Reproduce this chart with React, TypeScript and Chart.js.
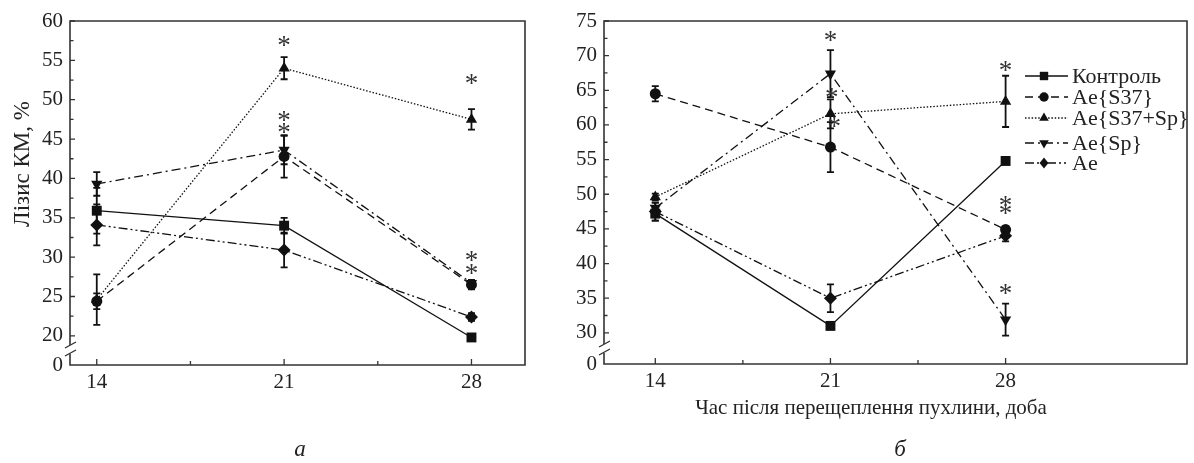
import React, { useEffect, useRef } from 'react';
import { Chart, registerables } from 'chart.js';
Chart.register(...registerables);

// ---------- data ----------
const days = [14, 21, 28];
const seriesNames = ['Контроль', 'Ae{S37}', 'Ae{S37+Sp}', 'Ae{Sp}', 'Ae'];

// panel а
const leftControl = [35.9, 34.0, 19.8];
const leftS37 = [24.4, 42.8, 26.5];
const leftS37Sp = [24.6, 54.0, 47.5];
const leftSp = [39.3, 43.6, 26.7];
const leftAe = [34.1, 30.9, 22.4];
const leftControlErr = [2.9, 1.0, 0.3];
const leftS37Err = [1.0, 2.7, 0.6];
const leftS37SpErr = [3.2, 1.4, 1.3];
const leftSpErr = [1.5, 1.8, 0];
const leftAeErr = [2.6, 2.2, 0.5];
const leftStarX = [21, 21, 21, 28, 28, 28];
const leftStarY = [57.6, 48.1, 46.5, 52.8, 30.3, 28.6];
const leftYTicks = [20, 25, 30, 35, 40, 45, 50, 55, 60];

// panel б
const rightControl = [47.2, 31.0, 54.8];
const rightS37 = [64.5, 56.8, 44.9];
const rightS37Sp = [49.6, 61.6, 63.4];
const rightSp = [48.0, 67.4, 31.9];
const rightAe = [47.5, 35.0, 44.0];
const rightControlErr = [1.0, 0.5, 0.3];
const rightS37Err = [1.1, 3.6, 0.5];
const rightS37SpErr = [0.5, 2.1, 3.7];
const rightSpErr = [0.8, 3.4, 2.3];
const rightAeErr = [1.3, 2.0, 0.8];
const rightStarX = [21, 21.05, 21.15, 28, 28, 28, 28];
const rightStarY = [73.0, 64.7, 60.5, 68.6, 49.2, 48.0, 36.5];
const rightYTicks = [30, 35, 40, 45, 50, 55, 60, 65, 70, 75];

const xMajor = [14, 21, 28];
const xMinor = [17.5, 24.5];

// ---------- styles ----------
const FONT = "'Liberation Serif', 'Times New Roman', serif";
const INK = '#111';
const styles = [
  { dash: [], point: 'rect', radius: 7, rotation: 0 },
  { dash: [8, 5], point: 'circle', radius: 5.5, rotation: 0 },
  { dash: [1.5, 1.8], point: 'triangle', radius: 6.5, rotation: 0 },
  { dash: [9, 4, 2, 4], point: 'triangle', radius: 6.5, rotation: 180 },
  { dash: [9, 3, 2, 3, 2, 3], point: 'rectRot', radius: 6.5, rotation: 0 },
];

type Panel = {
  values: number[][];
  errors: number[][];
  starX: number[];
  starY: number[];
  yTicks: number[];
  yMin: number;
  yMax: number;
  xMin: number;
  xMax: number;
  yAxisWidth: number;
  xAxisHeight: number;
  padTop: number;
  padRight: number;
  width: number;
  legend: boolean;
  drawTexts: (ctx: CanvasRenderingContext2D) => void;
};

function drawMarker(ctx: CanvasRenderingContext2D, kind: string, rot: number, x: number, y: number, r: number) {
  ctx.beginPath();
  if (kind === 'rect') {
    const s = r * Math.SQRT1_2;
    ctx.rect(x - s, y - s, 2 * s, 2 * s);
  } else if (kind === 'circle') {
    ctx.arc(x, y, r, 0, Math.PI * 2);
  } else if (kind === 'triangle') {
    const d = rot === 180 ? -1 : 1;
    ctx.moveTo(x, y - d * r);
    ctx.lineTo(x + r * 0.866, y + d * r * 0.5);
    ctx.lineTo(x - r * 0.866, y + d * r * 0.5);
    ctx.closePath();
  } else {
    ctx.moveTo(x, y - r);
    ctx.lineTo(x + r * 0.8, y);
    ctx.lineTo(x, y + r);
    ctx.lineTo(x - r * 0.8, y);
    ctx.closePath();
  }
  ctx.fill();
}

function makeDecor(p: Panel) {
  return {
    id: 'decor',
    afterDatasetsDraw(chart: any) {
      const ctx: CanvasRenderingContext2D = chart.ctx;
      const { left, right, top, bottom } = chart.chartArea;
      const xs = chart.scales.x;
      const ys = chart.scales.y;
      ctx.save();
      // error bars
      ctx.strokeStyle = INK;
      ctx.lineWidth = 1.8;
      ctx.setLineDash([]);
      p.errors.forEach((errs, i) => {
        errs.forEach((e, j) => {
          if (!e) return;
          const v = p.values[i][j];
          const x = xs.getPixelForValue(days[j]);
          const y1 = ys.getPixelForValue(v + e);
          const y2 = ys.getPixelForValue(v - e);
          ctx.beginPath();
          ctx.moveTo(x, y1); ctx.lineTo(x, y2);
          ctx.moveTo(x - 3.5, y1); ctx.lineTo(x + 3.5, y1);
          ctx.moveTo(x - 3.5, y2); ctx.lineTo(x + 3.5, y2);
          ctx.stroke();
        });
      });
      // frame
      ctx.strokeStyle = '#333';
      ctx.lineWidth = 1.6;
      ctx.beginPath();
      ctx.moveTo(left, bottom - 20);
      ctx.lineTo(left, top);
      ctx.lineTo(right, top);
      ctx.lineTo(right, bottom);
      ctx.lineTo(left, bottom);
      ctx.lineTo(left, bottom - 11);
      ctx.stroke();
      // axis break
      ctx.lineWidth = 1.4;
      ctx.beginPath();
      ctx.moveTo(left - 5, bottom - 17); ctx.lineTo(left + 6, bottom - 23);
      ctx.moveTo(left - 5, bottom - 9); ctx.lineTo(left + 6, bottom - 15);
      ctx.stroke();
      // inward ticks
      ctx.lineWidth = 1.3;
      ctx.beginPath();
      xMajor.forEach((v) => { const x = xs.getPixelForValue(v); ctx.moveTo(x, bottom); ctx.lineTo(x, bottom - 6); });
      xMinor.forEach((v) => { const x = xs.getPixelForValue(v); ctx.moveTo(x, bottom); ctx.lineTo(x, bottom - 4); });
      p.yTicks.forEach((v, k) => {
        const y = ys.getPixelForValue(v);
        ctx.moveTo(left, y); ctx.lineTo(left + 5, y);
        if (k < p.yTicks.length - 1) {
          const ym = ys.getPixelForValue(v + 2.5);
          ctx.moveTo(left, ym); ctx.lineTo(left + 3.5, ym);
        }
      });
      ctx.stroke();
      // significance stars
      ctx.fillStyle = '#333';
      ctx.font = `27px ${FONT}`;
      ctx.textAlign = 'center';
      ctx.textBaseline = 'alphabetic';
      p.starX.forEach((sx, k) => {
        ctx.fillText('*', xs.getPixelForValue(sx), ys.getPixelForValue(p.starY[k]) + 14);
      });
      // legend
      if (p.legend) {
        const rows = [76, 97, 118, 143, 163];
        styles.forEach((st, i) => {
          const y = rows[i];
          ctx.strokeStyle = INK;
          ctx.lineWidth = 1.3;
          ctx.setLineDash(st.dash);
          ctx.beginPath();
          ctx.moveTo(465, y); ctx.lineTo(508, y);
          ctx.stroke();
          ctx.setLineDash([]);
          ctx.fillStyle = INK;
          drawMarker(ctx, st.point, st.rotation, 484, y, st.radius * 0.85);
          ctx.fillStyle = '#222';
          ctx.font = `22px ${FONT}`;
          ctx.textAlign = 'left';
          ctx.textBaseline = 'middle';
          ctx.fillText(seriesNames[i], 512, y + 1);
        });
      }
      p.drawTexts(ctx);
      ctx.restore();
    },
  };
}

function buildConfig(p: Panel): any {
  const datasets = p.values.map((vals, i) => ({
    label: seriesNames[i],
    data: vals.map((v, j) => ({ x: days[j], y: v })),
    borderColor: INK,
    backgroundColor: INK,
    borderWidth: 1.3,
    borderDash: styles[i].dash,
    pointStyle: styles[i].point,
    pointRadius: styles[i].radius,
    pointRotation: styles[i].rotation,
    pointBorderWidth: 0,
    pointBackgroundColor: INK,
    tension: 0,
    fill: false,
  }));
  const zeroValue = p.yMin;
  return {
    type: 'line',
    data: { datasets },
    plugins: [makeDecor(p)],
    options: {
      animation: false,
      responsive: false,
      events: [],
      layout: { padding: { top: p.padTop, right: p.padRight, left: 0, bottom: 0 } },
      plugins: { legend: { display: false }, tooltip: { enabled: false } },
      scales: {
        x: {
          type: 'linear',
          min: p.xMin,
          max: p.xMax,
          afterBuildTicks: (s: any) => { s.ticks = xMajor.map((v) => ({ value: v })); },
          afterFit: (s: any) => { s.height = p.xAxisHeight; },
          ticks: { autoSkip: false, maxRotation: 0, padding: 5, color: '#222', font: { family: FONT, size: 21 }, callback: (v: any) => String(v) },
          grid: { display: false, drawTicks: false },
          border: { display: false },
        },
        y: {
          type: 'linear',
          min: p.yMin,
          max: p.yMax,
          afterBuildTicks: (s: any) => { s.ticks = [zeroValue, ...p.yTicks].map((v) => ({ value: v })); },
          afterFit: (s: any) => { s.width = p.yAxisWidth; },
          ticks: { autoSkip: false, padding: 7, color: '#222', font: { family: FONT, size: 21 }, callback: (v: any) => (v < p.yTicks[0] - 1 ? '0' : String(v)) },
          grid: { display: false, drawTicks: false },
          border: { display: false },
        },
      },
    },
  };
}

const leftPanel: Panel = {
  values: [leftControl, leftS37, leftS37Sp, leftSp, leftAe],
  errors: [leftControlErr, leftS37Err, leftS37SpErr, leftSpErr, leftAeErr],
  starX: leftStarX,
  starY: leftStarY,
  yTicks: leftYTicks,
  yMin: 16.3,
  yMax: 60,
  xMin: 13,
  xMax: 30,
  yAxisWidth: 70,
  xAxisHeight: 98,
  padTop: 21,
  padRight: 35,
  width: 560,
  legend: false,
  drawTexts: (ctx) => {
    ctx.fillStyle = '#222';
    ctx.save();
    ctx.translate(23, 164);
    ctx.rotate(-Math.PI / 2);
    ctx.font = `23px ${FONT}`;
    ctx.textAlign = 'center';
    ctx.textBaseline = 'middle';
    ctx.fillText('Лізис КМ, %', 0, 0);
    ctx.restore();
    ctx.font = `italic 23px ${FONT}`;
    ctx.textAlign = 'center';
    ctx.textBaseline = 'middle';
    ctx.fillText('а', 300, 450);
  },
};

const rightPanel: Panel = {
  values: [rightControl, rightS37, rightS37Sp, rightSp, rightAe],
  errors: [rightControlErr, rightS37Err, rightS37SpErr, rightSpErr, rightAeErr],
  starX: rightStarX,
  starY: rightStarY,
  yTicks: rightYTicks,
  yMin: 25.5,
  yMax: 75,
  xMin: 11.95,
  xMax: 35.25,
  yAxisWidth: 44,
  xAxisHeight: 99,
  padTop: 21,
  padRight: 2,
  width: 634,
  legend: true,
  drawTexts: (ctx) => {
    ctx.fillStyle = '#222';
    ctx.font = `21px ${FONT}`;
    ctx.textAlign = 'center';
    ctx.textBaseline = 'middle';
    ctx.fillText('Час після перещеплення пухлини, доба', 311, 408);
    ctx.font = `italic 23px ${FONT}`;
    ctx.fillText('б', 340, 450);
  },
};

function PanelChart({ panel, left }: { panel: Panel; left: number }) {
  const ref = useRef<HTMLCanvasElement | null>(null);
  useEffect(() => {
    if (!ref.current) return;
    const chart = new Chart(ref.current, buildConfig(panel));
    return () => chart.destroy();
  }, [panel]);
  return (
    <canvas
      ref={ref}
      width={panel.width}
      height={463}
      style={{ position: 'absolute', left, top: 0, width: panel.width, height: 463 }}
    />
  );
}

export default function App() {
  return (
    <div style={{ position: 'absolute', left: 0, top: 0, width: 1194, height: 463, background: '#fff' }}>
      <PanelChart panel={leftPanel} left={0} />
      <PanelChart panel={rightPanel} left={560} />
    </div>
  );
}
